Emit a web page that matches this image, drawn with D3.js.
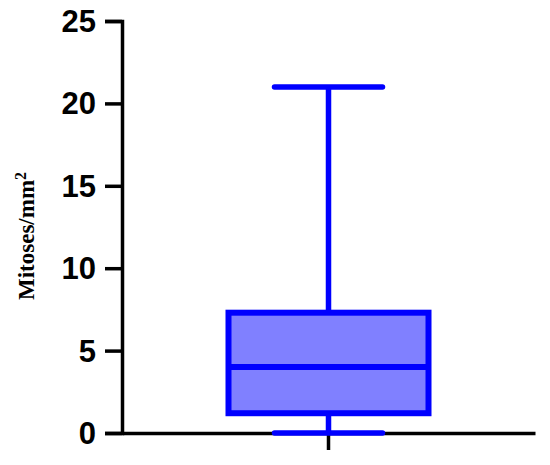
<!doctype html>
<html lang="en">
<head>
  <meta charset="UTF-8">
  <title>Mitoses box plot</title>
  <script src="https://cdnjs.cloudflare.com/ajax/libs/d3/7.8.5/d3.min.js"></script>
  <style>
  body { margin: 0; background: #fff; }
  </style>
</head>
<body>
<script>

// one group, box plot summary
var groups = [""];
var lowWhisker = [0];
var q1 = [1.2];
var median = [4.0];
var q3 = [7.3];
var highWhisker = [21];
var yTicks = [0, 5, 10, 15, 20, 25];

var w = 550;
var h = 465;
var margin = {top: 21, right: 15, bottom: 32, left: 122};

var svg = d3.select('body')
  .append('svg')
  .attr('width', w)
  .attr('height', h);

var x = d3.scaleBand()
  .domain(groups)
  .range([margin.left, w - margin.right]);

var y = d3.scaleLinear()
  .domain([0, 25])
  .range([h - margin.bottom, margin.top]);

var boxW = 200;
var capW = 108;

// axes
var yAxis = svg.append('g')
  .attr('transform', 'translate(' + margin.left + ',0)')
  .call(d3.axisLeft(y).tickValues(yTicks).tickSize(17).tickPadding(9));

yAxis.select('.domain').attr('stroke-width', 3.5);
yAxis.selectAll('.tick line').attr('stroke-width', 3.5);
yAxis.selectAll('.tick text')
  .attr('font-family', 'Liberation Sans, Arial, sans-serif')
  .attr('font-weight', 'bold')
  .attr('font-size', '31px')
  .attr('dy', '0.34em')
  .attr('fill', '#000');

var xAxis = svg.append('g')
  .attr('transform', 'translate(0,' + y(0) + ')')
  .call(d3.axisBottom(x).tickSize(17).tickSizeOuter(0));

xAxis.select('.domain').attr('stroke-width', 3.5);
xAxis.selectAll('.tick line').attr('stroke-width', 3.5);

// y title
svg.append('text')
  .attr('transform', 'translate(34,' + 236 + ') rotate(-90)')
  .attr('text-anchor', 'middle')
  .attr('font-family', 'Liberation Serif, Times New Roman, serif')
  .attr('font-weight', 'bold')
  .attr('font-size', '23px')
  .attr('fill', '#000')
  .text('Mitoses/mm')
  .append('tspan')
  .attr('baseline-shift', 'super')
  .attr('font-size', '16px')
  .text('2');

// box plot
var data = groups.map(function(g, i) {
  return {g: g, lo: lowWhisker[i], q1: q1[i], med: median[i], q3: q3[i], hi: highWhisker[i]};
});

var box = svg.selectAll('g.box')
  .data(data)
  .enter()
  .append('g')
  .attr('class', 'box');

function cx(d) { return x(d.g) + x.bandwidth() / 2; }

// whiskers
box.append('line')
  .attr('x1', cx).attr('x2', cx)
  .attr('y1', function(d) { return y(d.hi); })
  .attr('y2', function(d) { return y(d.lo); })
  .attr('stroke', '#0000ff')
  .attr('stroke-width', 5.5);

box.selectAll('line.cap')
  .data(function(d) { return [d.hi, d.lo].map(function(v) { return {g: d.g, v: v}; }); })
  .enter()
  .append('line')
  .attr('class', 'cap')
  .attr('x1', function(d) { return cx(d) - capW / 2; })
  .attr('x2', function(d) { return cx(d) + capW / 2; })
  .attr('y1', function(d) { return y(d.v); })
  .attr('y2', function(d) { return y(d.v); })
  .attr('stroke', '#0000ff')
  .attr('stroke-width', 5.5)
  .attr('stroke-linecap', 'round');

box.append('rect')
  .attr('x', function(d) { return cx(d) - boxW / 2; })
  .attr('width', boxW)
  .attr('y', function(d) { return y(d.q3); })
  .attr('height', function(d) { return y(d.q1) - y(d.q3); })
  .attr('fill', '#8080ff')
  .attr('stroke', '#0000ff')
  .attr('stroke-width', 6);

box.append('line')
  .attr('x1', function(d) { return cx(d) - boxW / 2; })
  .attr('x2', function(d) { return cx(d) + boxW / 2; })
  .attr('y1', function(d) { return y(d.med); })
  .attr('y2', function(d) { return y(d.med); })
  .attr('stroke', '#0000ff')
  .attr('stroke-width', 6);

</script>
</body>
</html>
